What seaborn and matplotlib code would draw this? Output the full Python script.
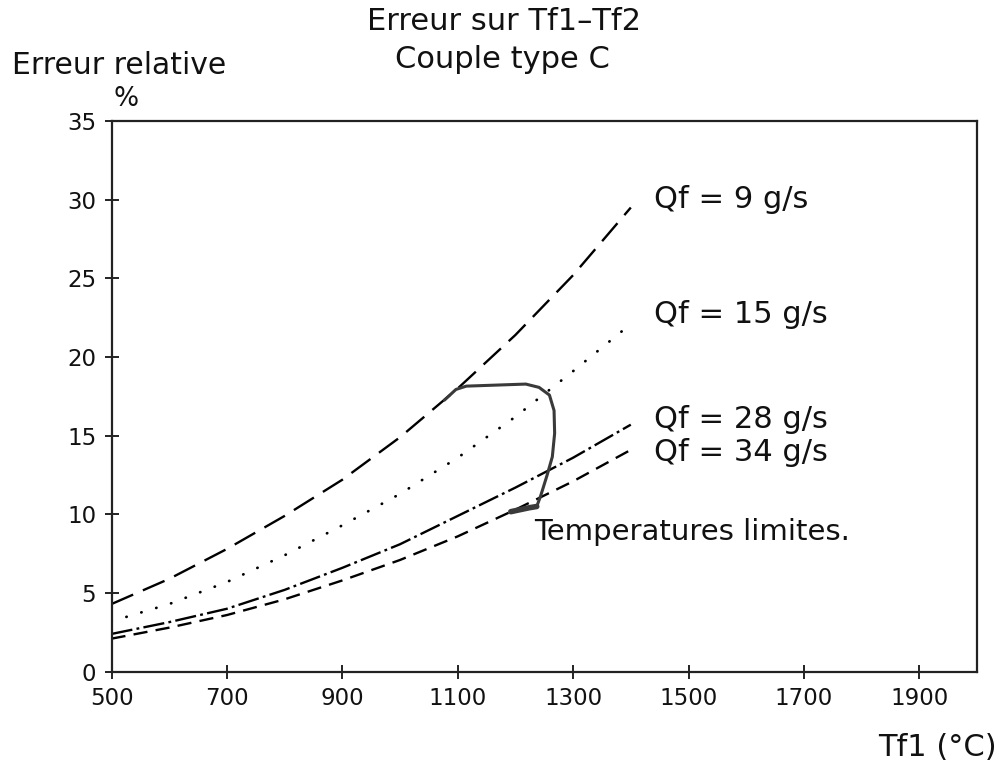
import numpy as np
import pandas as pd
import matplotlib
matplotlib.use("Agg")
import matplotlib.pyplot as plt
import seaborn as sns

# ---------------- data ----------------
tf1 = [500, 600, 700, 800, 900, 1000, 1100, 1200, 1300, 1400]
err_q9 = [4.3, 5.9, 7.8, 9.9, 12.2, 14.9, 18.0, 21.4, 25.2, 29.5]
err_q15 = [3.2, 4.3, 5.7, 7.4, 9.3, 11.3, 13.6, 16.2, 19.1, 22.1]
err_q28 = [2.4, 3.15, 4.0, 5.2, 6.6, 8.1, 9.9, 11.7, 13.6, 15.7]
err_q34 = [2.1, 2.8, 3.6, 4.6, 5.8, 7.1, 8.6, 10.3, 12.1, 14.1]

series_labels = ["Qf = 9 g/s", "Qf = 15 g/s", "Qf = 28 g/s", "Qf = 34 g/s"]
label_y = [30.0, 22.7, 16.0, 13.9]

# limit-temperature curve
lim_x = [1077, 1097, 1115, 1218, 1241, 1259, 1267, 1268, 1264, 1255, 1244, 1237]
lim_y = [17.26, 17.94, 18.15, 18.28, 18.07, 17.58, 16.6, 15.15, 13.66, 12.5, 11.2, 10.5]
lim_base_x = [1237, 1224, 1192]
lim_base_y = [10.5, 10.42, 10.17]

xticks = [500, 700, 900, 1100, 1300, 1500, 1700, 1900]
yticks = [0, 5, 10, 15, 20, 25, 30, 35]

# ---------------- figure ----------------
sns.set_theme(style="white")
plt.rcParams["font.family"] = ["DejaVu Sans"]

W, H = 1005, 767
fig = plt.figure(figsize=(W / 100, H / 100), dpi=100)
ax = fig.add_axes([111.5 / W, 1 - 671.7 / H, (977 - 111.5) / W, (671.7 - 121) / H])

styles = [
    dict(linestyle=(0, (10, 4.5)), lw=1.7),
    dict(linestyle=(0, (0.1, 5.5)), lw=2.0, dash_capstyle="round"),
    dict(linestyle=(0, (9, 1.8, 1.2, 1.8)), lw=1.7),
    dict(linestyle=(0, (6, 3.5)), lw=1.7),
]
all_err = [err_q9, err_q15, err_q28, err_q34]

for vals, st in zip(all_err, styles):
    df = pd.DataFrame({"Tf1": tf1, "err": vals})
    sns.lineplot(data=df, x="Tf1", y="err", ax=ax, color="black",
                 estimator=None, sort=False, **st)

df_lim = pd.DataFrame({"x": lim_x, "y": lim_y})
sns.lineplot(data=df_lim, x="x", y="y", ax=ax, color="#3a3a3a", lw=2.2,
             estimator=None, sort=False, solid_capstyle="round")
df_base = pd.DataFrame({"x": lim_base_x, "y": lim_base_y})
sns.lineplot(data=df_base, x="x", y="y", ax=ax, color="#3a3a3a", lw=4,
             estimator=None, sort=False, solid_capstyle="round")

for lab, yy in zip(series_labels, label_y):
    ax.text(1440, yy, lab, fontsize=22, va="center", ha="left", color="#111111")

ax.text(1233, 8.37, "Temperatures limites.", fontsize=21, va="baseline",
        ha="left", color="#111111")

ax.set_xlim(500, 2000)
ax.set_ylim(0, 35)
ax.set_xticks(xticks)
ax.set_yticks(yticks)
ax.set_xticklabels([str(t) for t in xticks])
ax.set_yticklabels([str(t) for t in yticks])
ax.tick_params(axis="both", which="both", direction="inout", length=10,
               width=1.3, labelsize=16.5, colors="#111111",
               bottom=True, left=True, top=False, right=False)
ax.tick_params(axis="x", pad=6)
ax.tick_params(axis="y", pad=6)
ax.set_xlabel("")
ax.set_ylabel("")
for sp in ax.spines.values():
    sp.set_visible(True)
    sp.set_color("#222222")
    sp.set_linewidth(1.6)
ax.grid(False)

# titles / axis labels
fig.text(504 / W, 1 - 22 / H, "Erreur sur Tf1\u2013Tf2", fontsize=22,
         ha="center", va="center", color="#111111")
fig.text(502 / W, 1 - 60 / H, "Couple type C", fontsize=22,
         ha="center", va="center", color="#111111")
fig.text(12 / W, 1 - 66 / H, "Erreur relative", fontsize=21.5,
         ha="left", va="center", color="#111111")
fig.text(126 / W, 1 - 99 / H, "%", fontsize=19,
         ha="center", va="center", color="#111111")
fig.text(937 / W, 1 - 747 / H, "Tf1 (\u00b0C)", fontsize=22,
         ha="center", va="center", color="#111111")

fig.savefig("out.png", dpi=100, facecolor="white")
